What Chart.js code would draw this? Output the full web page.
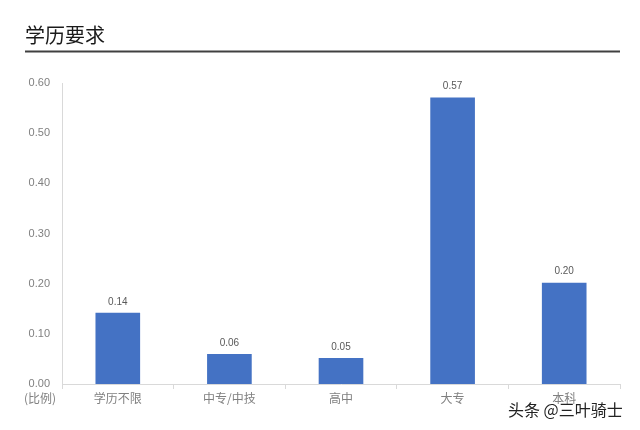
<!DOCTYPE html>
<html>
<head>
<meta charset="utf-8">
<script src="https://cdn.jsdelivr.net/npm/chart.js@4"></script>
<style>
  html, body { margin: 0; padding: 0; background: #fff; }
  #wrap { width: 640px; height: 430px; }
</style>
</head>
<body>
<div id="wrap"><canvas id="barChart" width="640" height="430"></canvas></div>
<script>
const categories = ['学历不限', '中专/中技', '高中', '大专', '本科'];
const ratios = [0.142, 0.06, 0.052, 0.571, 0.202];
const yTicks = [0, 0.1, 0.2, 0.3, 0.4, 0.5, 0.6];

const fontFamily = '"Noto Sans CJK SC", "Liberation Sans", sans-serif';

// title, rule under it, value labels, "(比例)" and the watermark
const decorations = {
  id: 'decorations',
  afterDraw(chart) {
    const ctx = chart.ctx;
    ctx.save();
    ctx.fillStyle = '#1a1a1a';
    ctx.font = '20px ' + fontFamily;
    ctx.textBaseline = 'middle';
    ctx.textAlign = 'left';
    ctx.fillText('学历要求', 25, 35);
    ctx.strokeStyle = '#404040';
    ctx.lineWidth = 2;
    ctx.beginPath();
    ctx.moveTo(25, 51.5);
    ctx.lineTo(620, 51.5);
    ctx.stroke();

    const meta = chart.getDatasetMeta(0);
    ctx.font = '10px "Liberation Sans", sans-serif';
    ctx.fillStyle = '#595959';
    ctx.textAlign = 'center';
    ctx.textBaseline = 'bottom';
    meta.data.forEach((bar, i) => {
      ctx.fillText(ratios[i].toFixed(2), bar.x, bar.y - 6);
    });

    ctx.font = '12px ' + fontFamily;
    ctx.fillStyle = '#808080';
    ctx.textAlign = 'left';
    ctx.textBaseline = 'middle';
    ctx.fillText('(比例)', 24, 398);

    ctx.font = '16px ' + fontFamily;
    ctx.fillStyle = '#222';
    ctx.fillText('头条 @三叶骑士', 508, 410);
    ctx.restore();
  }
};

new Chart(document.getElementById('barChart').getContext('2d'), {
  type: 'bar',
  data: {
    labels: categories,
    datasets: [{
      data: ratios,
      backgroundColor: '#4472C4',
      borderColor: '#4472C4',
      categoryPercentage: 1,
      barPercentage: 0.4
    }]
  },
  options: {
    responsive: false,
    animation: false,
    layout: { padding: { top: 83, right: 20, left: 0, bottom: 0 } },
    plugins: { legend: { display: false }, tooltip: { enabled: false } },
    scales: {
      x: {
        grid: { display: true, drawOnChartArea: false, offset: true, tickLength: 5, color: '#d9d9d9' },
        border: { color: '#d9d9d9' },
        ticks: { color: '#808080', font: { family: fontFamily, size: 12 }, padding: 2 },
        afterFit(scale) { scale.height = 46; }
      },
      y: {
        min: 0,
        max: 0.6,
        afterBuildTicks(scale) { scale.ticks = yTicks.map(v => ({ value: v })); },
        grid: { display: false },
        border: { color: '#d9d9d9' },
        ticks: {
          color: '#808080',
          font: { family: '"Liberation Sans", sans-serif', size: 11 },
          padding: 4,
          callback: v => v.toFixed(2)
        },
        afterFit(scale) { scale.width = 62; }
      }
    }
  },
  plugins: [decorations]
});
</script>
</body>
</html>
